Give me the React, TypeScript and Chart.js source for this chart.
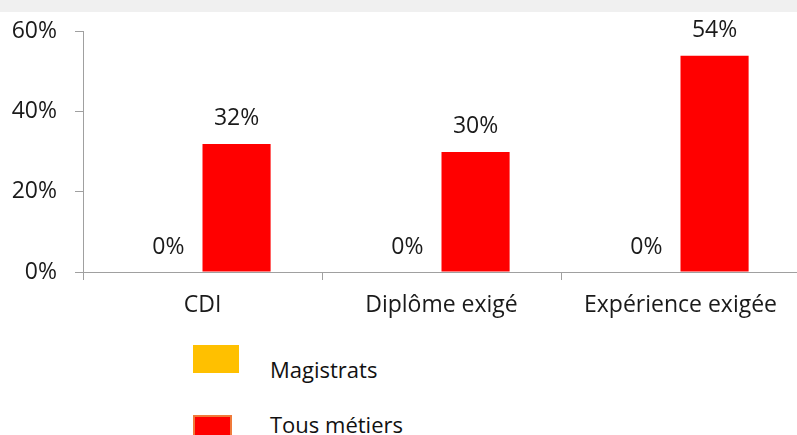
import React, { useEffect, useRef } from "react";
import { Chart, registerables } from "chart.js";

Chart.register(...registerables);

const categories = ["CDI", "Diplôme exigé", "Expérience exigée"];
const magistrats = [0, 0, 0];
const tousMetiers = [32, 30, 54];
const yTicks = [0, 20, 40, 60];
const seriesNames = ["Magistrats", "Tous métiers"];

const FONT = "'Open Sans', sans-serif";
const TEXT = "#1a1a1a";
const AXIS = "#a0a0a0";

const valueLabels = {
  id: "valueLabels",
  afterDatasetsDraw(chart: any) {
    const ctx = chart.ctx;
    ctx.save();
    ctx.font = `23px ${FONT}`;
    ctx.fillStyle = TEXT;
    ctx.textAlign = "center";
    ctx.textBaseline = "middle";
    chart.data.datasets.forEach((ds: any, i: number) => {
      const meta = chart.getDatasetMeta(i);
      meta.data.forEach((el: any, j: number) => {
        ctx.fillText(`${ds.data[j]}%`, el.x, el.y - 25);
      });
    });
    ctx.restore();
  },
};

export default function App() {
  const ref = useRef<HTMLCanvasElement>(null);
  useEffect(() => {
    if (!ref.current) return;
    const chart = new Chart(ref.current, {
      type: "bar",
      data: {
        labels: categories,
        datasets: [
          {
            label: seriesNames[0],
            data: magistrats,
            backgroundColor: "#FFC000",
            categoryPercentage: 0.57,
            barPercentage: 1,
          },
          {
            label: seriesNames[1],
            data: tousMetiers,
            backgroundColor: "#FF0000",
            categoryPercentage: 0.57,
            barPercentage: 1,
          },
        ],
      },
      options: {
        responsive: false,
        animation: false,
        layout: { padding: { top: 29, right: 10, left: 0, bottom: 0 } },
        plugins: { legend: { display: false }, tooltip: { enabled: false } },
        scales: {
          x: {
            grid: {
              display: true,
              drawOnChartArea: false,
              drawTicks: true,
              tickLength: 8,
              color: AXIS,
            },
            border: { display: true, color: AXIS, width: 1 },
            ticks: { font: { family: FONT, size: 23 }, color: TEXT, padding: 12, maxRotation: 0 },
            afterFit: (s: any) => {
              s.height = 63;
            },
          },
          y: {
            min: 0,
            max: 60,
            afterBuildTicks: (s: any) => {
              s.ticks = yTicks.map((v) => ({ value: v }));
            },
            grid: {
              display: true,
              drawOnChartArea: false,
              drawTicks: true,
              tickLength: 8,
              color: AXIS,
            },
            border: { display: true, color: AXIS, width: 1 },
            ticks: {
              font: { family: FONT, size: 23 },
              color: TEXT,
              padding: 18,
              callback: (v: any) => `${v}%`,
            },
            afterFit: (s: any) => {
              s.width = 83;
            },
          },
        },
      },
      plugins: [valueLabels],
    });
    return () => chart.destroy();
  }, []);

  const legendText: React.CSSProperties = {
    position: "absolute",
    left: 270,
    fontFamily: FONT,
    fontSize: 22,
    lineHeight: "22px",
    color: "#111",
    whiteSpace: "nowrap",
  };

  return (
    <div
      style={{
        position: "fixed",
        left: 0,
        top: 0,
        width: 797,
        height: 435,
        overflow: "hidden",
        background: "#ffffff",
      }}
    >
      <div style={{ position: "absolute", left: 0, top: 0, width: 797, height: 12, background: "#f0f0f0" }} />
      <canvas
        ref={ref}
        width={810}
        height={335}
        style={{ position: "absolute", left: 0, top: 0, display: "block" }}
      />
      <div style={{ position: "absolute", left: 193, top: 345, width: 46, height: 28, background: "#FFC000" }} />
      <div style={{ ...legendText, top: 357.5 }}>{seriesNames[0]}</div>
      <div
        style={{
          position: "absolute",
          left: 193,
          top: 415,
          width: 39,
          height: 28,
          background: "#FF0000",
          border: "2px solid #F07A3A",
          boxSizing: "border-box",
        }}
      />
      <div style={{ ...legendText, top: 412.5 }}>{seriesNames[1]}</div>
    </div>
  );
}
